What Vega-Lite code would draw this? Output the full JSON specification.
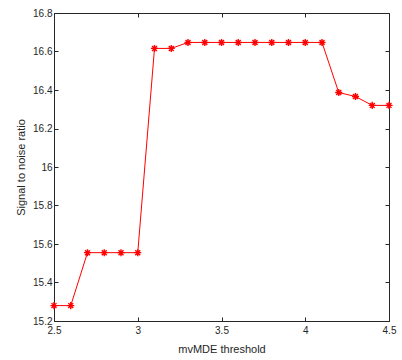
{
  "$schema": "https://vega.github.io/schema/vega-lite/v6.json",
  "autosize": {"type": "none"},
  "width": 335,
  "height": 308,
  "padding": {"left": 54, "top": 13, "right": 13, "bottom": 39},
  "background": "white",
  "config": {
    "view": {"stroke": "#262626", "strokeWidth": 1},
    "font": "Liberation Sans",
    "axis": {
      "grid": false,
      "domainColor": "#262626",
      "tickColor": "#262626",
      "tickSize": -4,
      "labelColor": "#262626",
      "labelFontSize": 10,
      "labelFont": "Liberation Sans",
      "titleFont": "Liberation Sans",
      "titleFontSize": 11,
      "titleFontWeight": "normal",
      "titleColor": "#262626",
      "labelPadding": 6,
      "labelFlush": false,
      "labelOverlap": false
    }
  },
  "data": {
    "values": [
      {"t": 2.5, "snr": 15.28},
      {"t": 2.6, "snr": 15.28},
      {"t": 2.7, "snr": 15.555},
      {"t": 2.8, "snr": 15.555},
      {"t": 2.9, "snr": 15.555},
      {"t": 3.0, "snr": 15.555},
      {"t": 3.1, "snr": 16.616},
      {"t": 3.2, "snr": 16.616},
      {"t": 3.3, "snr": 16.647},
      {"t": 3.4, "snr": 16.647},
      {"t": 3.5, "snr": 16.647},
      {"t": 3.6, "snr": 16.647},
      {"t": 3.7, "snr": 16.647},
      {"t": 3.8, "snr": 16.647},
      {"t": 3.9, "snr": 16.647},
      {"t": 4.0, "snr": 16.647},
      {"t": 4.1, "snr": 16.647},
      {"t": 4.2, "snr": 16.387},
      {"t": 4.3, "snr": 16.366},
      {"t": 4.4, "snr": 16.32},
      {"t": 4.5, "snr": 16.32}
    ]
  },
  "layer": [
    {
      "mark": {"type": "line", "color": "#ff0000", "strokeWidth": 1, "clip": true},
      "encoding": {
        "x": {"field": "t", "type": "quantitative",
          "scale": {"domain": [2.5, 4.5], "nice": false, "zero": false},
          "axis": {"title": "mvMDE threshold", "values": [2.5, 3, 3.5, 4, 4.5], "format": "~g", "labelPadding": 8, "titlePadding": 8}},
        "y": {"field": "snr", "type": "quantitative",
          "scale": {"domain": [15.2, 16.8], "nice": false, "zero": false},
          "axis": {"title": "Signal to noise ratio", "values": [15.2, 15.4, 15.6, 15.8, 16, 16.2, 16.4, 16.6, 16.8], "format": "~g", "titlePadding": 6}}
      }
    },
    {
      "mark": {"type": "point", "shape": "M-1,0L1,0M0,-1L0,1M-0.7,-0.7L0.7,0.7M-0.7,0.7L0.7,-0.7", "size": 50, "stroke": "#ff0000", "strokeWidth": 1.4, "filled": false, "opacity": 1},
      "encoding": {
        "x": {"field": "t", "type": "quantitative",
          "axis": {"orient": "top", "labels": false, "title": null, "values": [2.5, 3, 3.5, 4, 4.5], "domain": false}},
        "y": {"field": "snr", "type": "quantitative",
          "axis": {"orient": "right", "labels": false, "title": null, "values": [15.2, 15.4, 15.6, 15.8, 16, 16.2, 16.4, 16.6, 16.8], "domain": false}}
      }
    }
  ],
  "resolve": {"axis": {"x": "independent", "y": "independent"}}
}
